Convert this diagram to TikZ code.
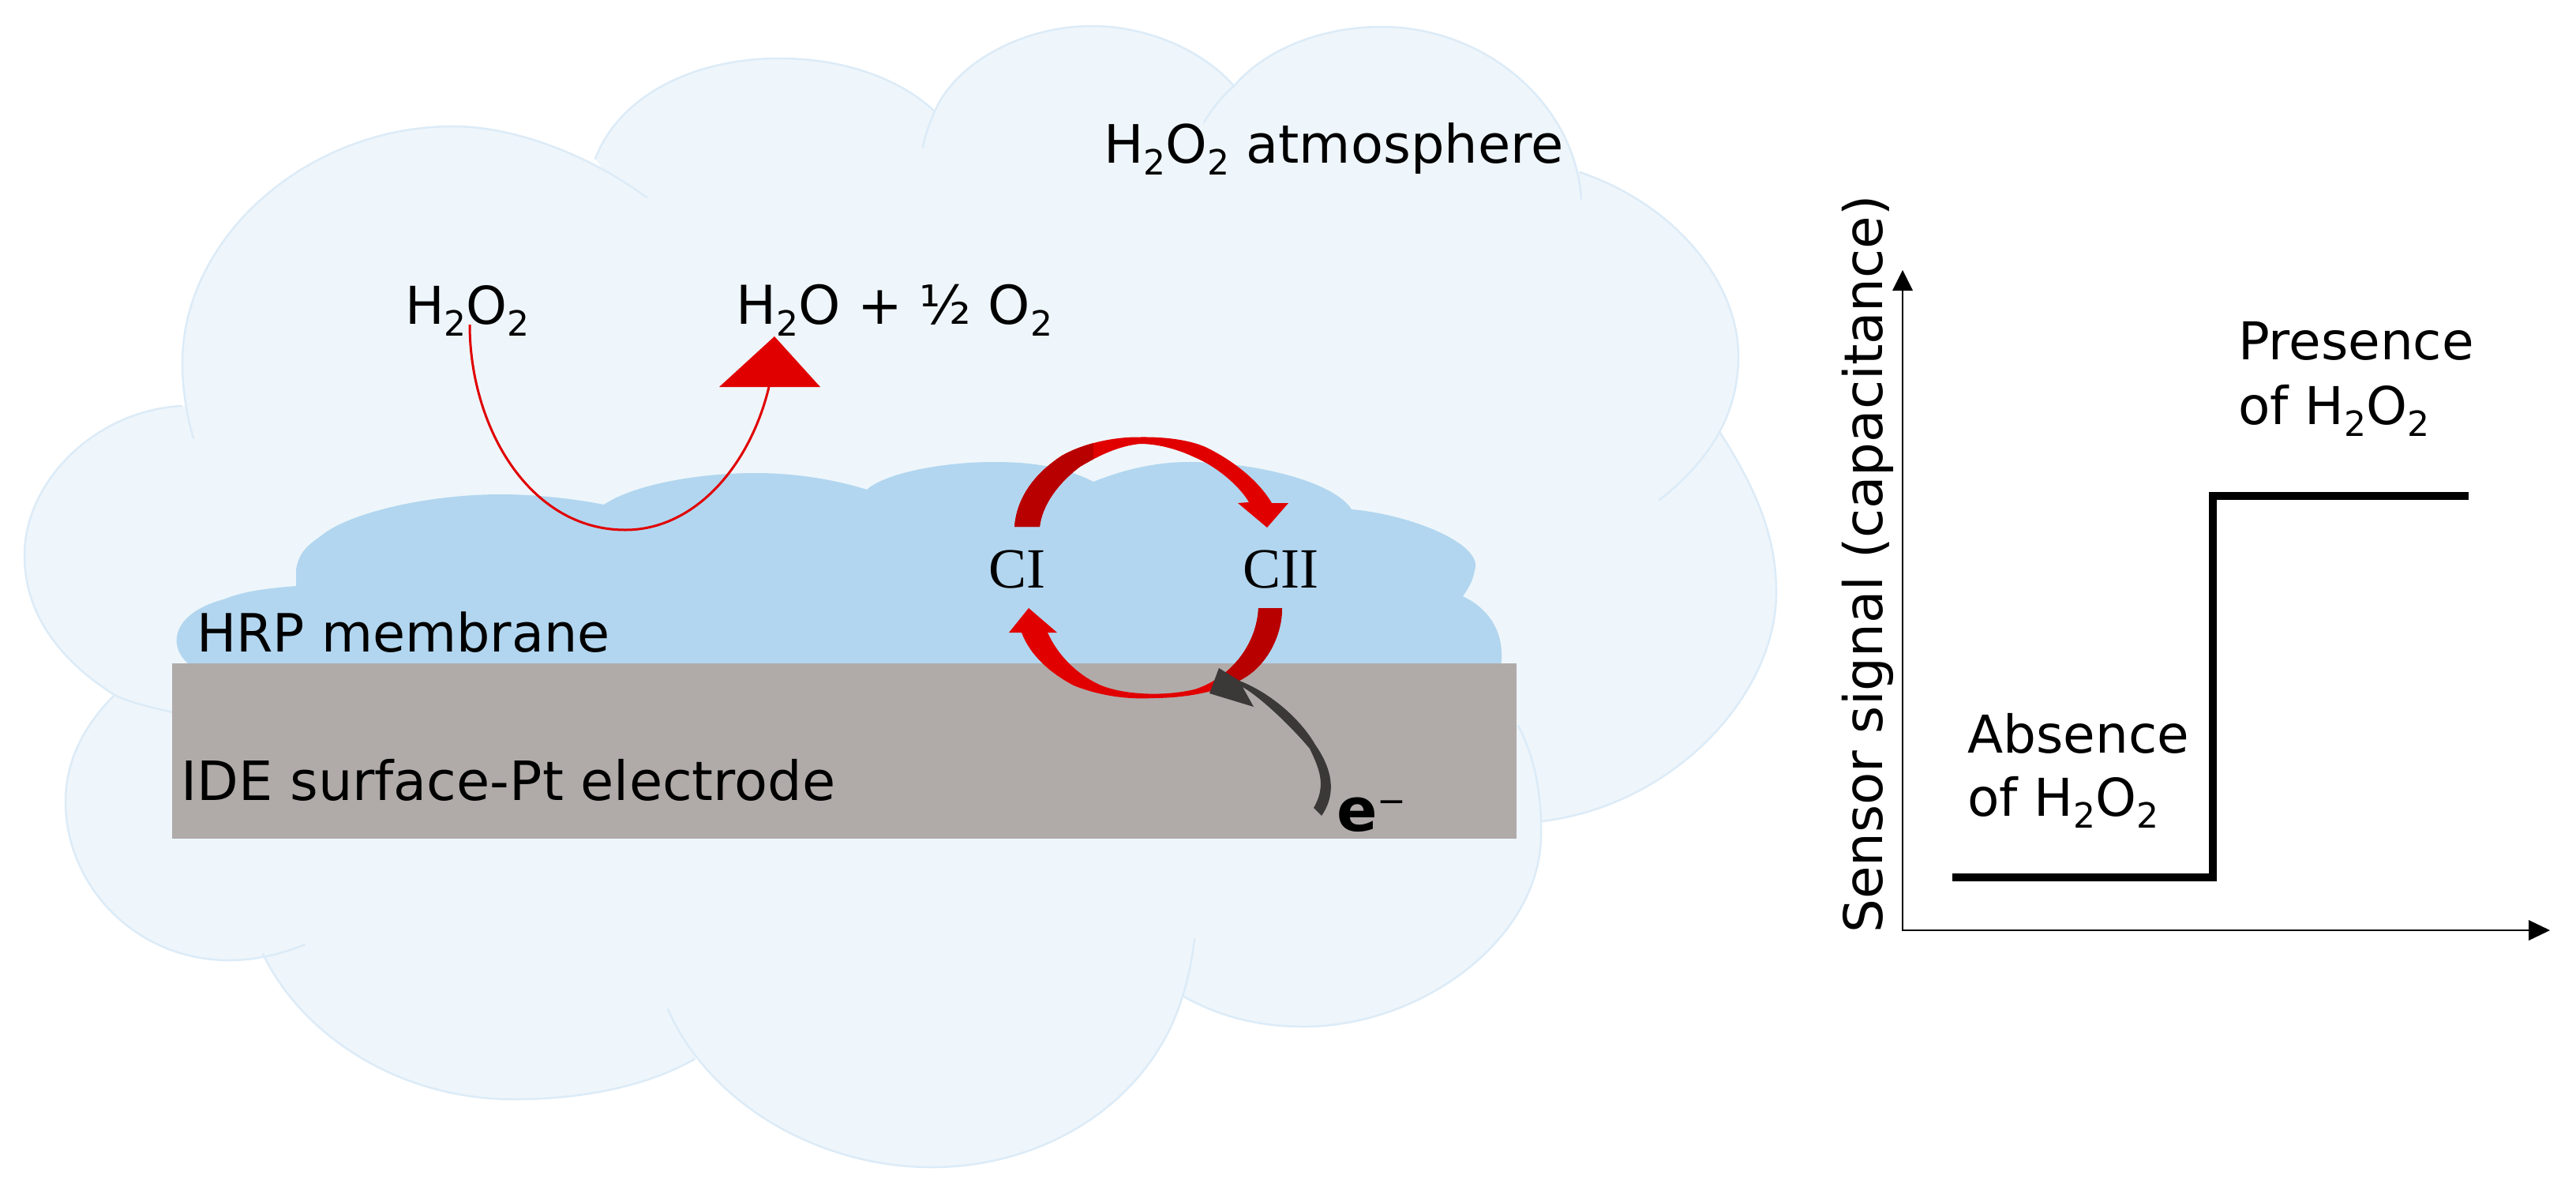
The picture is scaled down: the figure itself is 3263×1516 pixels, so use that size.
\documentclass[tikz,border=0pt]{standalone}
\usepackage{fontspec}
\setmainfont{DejaVu Sans}
\newfontfamily\serifcy{Liberation Serif}
\definecolor{cloudfill}{HTML}{EEF6FB}
\definecolor{cloudline}{HTML}{DCEBF7}
\definecolor{hrpblue}{HTML}{B2D6EF}
\definecolor{ptgrey}{HTML}{B0ABA9}
\definecolor{redA}{HTML}{E10000}
\definecolor{redB}{HTML}{B80000}
\definecolor{eblack}{HTML}{3B3838}
\newcommand{\lobeA}{(218,902) .. controls (190,895) and (165,890) .. (145,880) .. controls (85,842) and (31,785) .. (31,703) .. controls (31,610) and (120,520) .. (230,514)}
\newcommand{\lobeB}{(245,555) .. controls (236,525) and (231,490) .. (231,460) .. controls (231,300) and (390,160) .. (574,160) .. controls (650,160) and (745,195) .. (819,250)}
\newcommand{\lobeC}{(754,201) .. controls (785,120) and (880,74) .. (987,74) .. controls (1070,74) and (1140,100) .. (1184,141)}
\newcommand{\lobeD}{(1169,187) .. controls (1172,170) and (1178,155) .. (1184,141) .. controls (1210,80) and (1295,33) .. (1383,33) .. controls (1455,33) and (1525,65) .. (1563,109)}
\newcommand{\lobeE}{(1525,155) .. controls (1535,138) and (1548,122) .. (1563,109) .. controls (1600,65) and (1670,34) .. (1750,34) .. controls (1880,34) and (1995,130) .. (2003,252)}
\newcommand{\lobeF}{(2001,218) .. controls (2125,260) and (2202,360) .. (2202,451) .. controls (2202,520) and (2170,580) .. (2102,633)}
\newcommand{\lobeG}{(2179,548) .. controls (2225,620) and (2250,680) .. (2250,750) .. controls (2250,880) and (2120,1020) .. (1953,1040)}
\newcommand{\lobeH}{(1923,919) .. controls (1945,960) and (1953,1010) .. (1952,1059) .. controls (1950,1190) and (1800,1300) .. (1651,1300) .. controls (1590,1300) and (1540,1285) .. (1498,1261)}
\newcommand{\lobeI}{(1513,1189) .. controls (1510,1215) and (1505,1240) .. (1498,1261) .. controls (1460,1390) and (1330,1478) .. (1180,1478) .. controls (1040,1478) and (900,1400) .. (846,1278)}
\newcommand{\lobeJ}{(880,1341) .. controls (820,1375) and (740,1392) .. (650,1392) .. controls (510,1392) and (385,1315) .. (333,1208)}
\newcommand{\lobeK}{(386,1196) .. controls (360,1207) and (325,1216) .. (291,1216) .. controls (170,1216) and (83,1120) .. (83,1015) .. controls (83,965) and (105,920) .. (145,880)}
\newcommand{\sbt}[1]{\raisebox{-15pt}{\fontsize{44}{44}\selectfont #1}}
\tikzset{
  lobe/.style={draw=cloudline,line width=2.5pt,line cap=round},
  lbl/.style={anchor=base west,inner sep=0pt,font=\fontsize{66}{66}\selectfont,text=black},
  lblsized/.style={anchor=base west,inner sep=0pt,font=\fontsize{#1}{#1}\selectfont,text=black},
  cyc/.style={anchor=base west,inner sep=0pt,font=\serifcy\fontsize{72}{72}\selectfont,text=black},
  axisline/.style={draw=black,line width=2.5pt},
  stepline/.style={draw=black,line width=10.5pt,miter limit=10}
}
\begin{document}
\begin{tikzpicture}[x=1pt,y=-1pt]
\useasboundingbox (0,0) rectangle (3263,1516);
\coordinate (mid) at (1100,700);
% cloud body
\foreach \lb in {\lobeA,\lobeB,\lobeC,\lobeD,\lobeE,\lobeF,\lobeG,\lobeH,\lobeI,\lobeJ,\lobeK}{
  \fill[cloudfill] \lb -- (mid) -- cycle;
}
% cloud outline with inner tails
\foreach \lb in {\lobeA,\lobeB,\lobeC,\lobeD,\lobeE,\lobeF,\lobeG,\lobeH,\lobeI,\lobeJ,\lobeK}{
  \draw[lobe] \lb;
}
% HRP membrane
\fill[hrpblue] (245,845) .. controls (212,825) and (212,778) .. (283,759)
  .. controls (310,748) and (340,745) .. (375,742) -- (375,722)
  .. controls (378,700) and (390,690) .. (406,679)
  .. controls (440,650) and (540,626) .. (635,626)
  .. controls (680,626) and (730,632) .. (765,639)
  .. controls (800,615) and (880,599) .. (957,599)
  .. controls (1010,599) and (1060,608) .. (1098,620)
  .. controls (1120,600) and (1190,585) .. (1260,585)
  .. controls (1310,585) and (1350,592) .. (1385,610)
  .. controls (1430,592) and (1470,585) .. (1506,585)
  .. controls (1590,585) and (1690,610) .. (1712,645)
  .. controls (1790,652) and (1880,690) .. (1868,722)
  .. controls (1866,735) and (1860,745) .. (1853,755)
  .. controls (1880,768) and (1908,795) .. (1901,845) -- cycle;
% electrode
\fill[ptgrey] (218,840) rectangle (1921,1062);
% labels
\node[lbl] (peroxide) at (513,410) {H\sbt{2}O\sbt{2}};
\node[lblsized=67.8] (products) at (932,410) {H\sbt{2}O + ½ O\sbt{2}};
\node[lblsized=67] (atmos) at (1398,206) {H\sbt{2}O\sbt{2} atmosphere};
\node[lblsized=66.8] (hrp) at (249,825) {HRP membrane};
\node[lblsized=68.6] (ide) at (229,1013) {IDE surface-Pt electrode};
\node[cyc] (ci) at (1252,744) {CI};
\node[cyc] (cii) at (1574,744) {CII};
\node[anchor=base west,inner sep=0pt,font=\fontsize{76}{76}\selectfont\bfseries] (eminus) at (1693,1052) {e\raisebox{23pt}{\fontsize{44}{44}\selectfont\mdseries −}};
% thin reaction arrow
\draw[redA,line width=3pt] (595,411) .. controls (595,540) and (670,671) .. (792,671) .. controls (880,671) and (950,590) .. (974,490);
\fill[redA] (981,426) -- (911,490) -- (1039,490) -- cycle;
% top cycle arrow
\def\topcycle{(1285,667) .. controls (1288,630) and (1310,600) .. (1345,577)
  .. controls (1375,560) and (1415,553) .. (1444,553.5)
  .. controls (1480,553) and (1510,558) .. (1529,567)
  .. controls (1565,585) and (1595,610) .. (1611,637) -- (1632,637) -- (1605,668) -- (1568,637) -- (1582,636)
  .. controls (1570,615) and (1540,590) .. (1513,579)
  .. controls (1490,568) and (1465,562) .. (1444,562)
  .. controls (1415,565) and (1390,578) .. (1368,591)
  .. controls (1340,612) and (1320,640) .. (1317,667) -- cycle}
\fill[redA] \topcycle;
\begin{scope}
\clip \topcycle;
\fill[redB] (1270,540) rectangle (1385,680);
\end{scope}
% bottom cycle arrow
\def\botcycle{(1624,770) .. controls (1624,800) and (1610,830) .. (1590,848)
  .. controls (1565,872) and (1510,884) .. (1460,884)
  .. controls (1425,886) and (1390,880) .. (1360,868)
  .. controls (1330,852) and (1305,830) .. (1294,801) -- (1278,801) -- (1303,770) -- (1339,801) -- (1327,801)
  .. controls (1340,830) and (1365,855) .. (1395,868)
  .. controls (1425,880) and (1475,882) .. (1513,873)
  .. controls (1560,858) and (1592,815) .. (1594,770) -- cycle}
\fill[redA] \botcycle;
\begin{scope}
\clip \botcycle;
\fill[redB] (1545,760) rectangle (1640,890);
\end{scope}
% electron arrow
\fill[eblack] (1544,846) -- (1532,878) -- (1588,895) -- (1574,870)
  .. controls (1600,885) and (1640,925) .. (1659,948)
  .. controls (1672,975) and (1680,995) .. (1664,1023)
  -- (1674,1033) .. controls (1690,1010) and (1692,980) .. (1666,943)
  .. controls (1650,915) and (1615,880) .. (1570,862) -- cycle;
% graph
\coordinate (origin) at (2410,1178);
\coordinate (ytop) at (2410,368);
\coordinate (xend) at (3203,1178);
\draw[axisline] (ytop) -- (origin) -- (xend);
\fill[black] (2410,342) -- (2397,368) -- (2423,368) -- cycle;
\fill[black] (3230,1178) -- (3203,1165) -- (3203,1191) -- cycle;
\draw[stepline] (2473,1111) -- (2803,1111) -- (2803,628) -- (3127,628);
\node[lblsized=67.5,rotate=90] (ylabel) at (2384,1182) {Sensor signal (capacitance)};
\node[lbl] (pres1) at (2835,455) {Presence};
\node[lbl] (pres2) at (2835,537) {of H\sbt{2}O\sbt{2}};
\node[lbl] (abs1) at (2492,953) {Absence};
\node[lbl] (abs2) at (2492,1033) {of H\sbt{2}O\sbt{2}};
\end{tikzpicture}
\end{document}
